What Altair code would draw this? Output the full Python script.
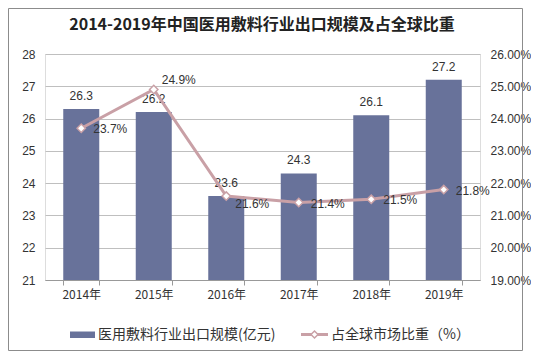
import altair as alt
import pandas as pd

years = ["2014年", "2015年", "2016年", "2017年", "2018年", "2019年"]
export_scale = [26.3, 26.2, 23.6, 24.3, 26.1, 27.2]
global_share = [23.7, 24.9, 21.6, 21.4, 21.5, 21.8]
title_text = "2014-2019年中国医用敷料行业出口规模及占全球比重"
legend_bar = "医用敷料行业出口规模(亿元)"
legend_line = "占全球市场比重（%）"

df = pd.DataFrame({"year": years, "scale": export_scale, "share": global_share})

BAR = "#68729a"
LINE = "#c9a0a6"
TXT = "#333333"
FONT = "Liberation Sans"
CJK = "Noto Sans CJK SC"

W, H = 435, 226

x = alt.X("year:N", sort=years, title=None,
          scale=alt.Scale(paddingInner=0.5, paddingOuter=0.25),
          axis=alt.Axis(labelAngle=0, labelFont=CJK, labelFontSize=12, labelColor=TXT,
                        domainColor="#999999", tickColor="#999999", tickBand="extent",
                        tickSize=5, labelPadding=4, grid=False, labelOverlap=False))

yl = alt.Y("scale:Q", title=None,
           scale=alt.Scale(domain=[21, 28], nice=False, zero=False),
           axis=alt.Axis(values=list(range(21, 29)), labelFont=FONT, labelFontSize=12,
                         labelColor=TXT, domain=False, ticks=False, labelPadding=10,
                         grid=True, gridColor="#bfbfbf", gridWidth=1, labelOverlap=False))

yr = alt.Y("share:Q", title=None,
           scale=alt.Scale(domain=[19, 26], nice=False, zero=False),
           axis=alt.Axis(orient="right", values=list(range(19, 27)), labelFont=FONT,
                         labelFontSize=12, labelColor=TXT, domain=False, ticks=False,
                         labelPadding=10, grid=False, labelOverlap=False,
                         labelExpr="format(datum.value, '.2f') + '%'"))

base = alt.Chart(df)

bars = base.mark_bar(color=BAR, size=36, clip=True).encode(x=x, y=yl, y2=alt.datum(21))
bar_labels = base.mark_text(font=FONT, fontSize=12, color=TXT, baseline="bottom", dy=-6).encode(
    x=x, y=yl, text=alt.Text("scale:Q", format=".1f"))
left = alt.layer(bars, bar_labels)

line = base.mark_line(color=LINE, strokeWidth=3).encode(x=x, y=yr)
pts = base.mark_point(shape="diamond", filled=True, fill="white", stroke=LINE,
                      strokeWidth=1.5, size=70, opacity=1).encode(x=x, y=yr)


def lab(sel, dx, dy):
    return base.transform_filter(sel).transform_calculate(
        lbl="format(datum.share, '.1f') + '%'"
    ).mark_text(font=FONT, fontSize=12, color=TXT, align="left", baseline="middle",
                dx=dx, dy=dy).encode(x=x, y=yr, text=alt.Text("lbl:N"))


right = alt.layer(
    line, pts,
    lab("datum.year == '2015年'", 8, -10),
    lab("datum.year == '2016年'", 9, 8),
    lab("datum.year != '2015年' && datum.year != '2016年'", 12, 1),
)

one = pd.DataFrame({"t": [title_text]})
title = alt.Chart(one).mark_text(font=CJK, fontSize=16, fontWeight="bold", color="#222222",
                                 align="center", baseline="middle").encode(
    text="t:N", x=alt.value(217), y=alt.value(-29))

border = alt.Chart(one).mark_rect(fill=None, stroke="#8c8c8c", strokeWidth=1).encode(
    x=alt.value(-36.5), x2=alt.value(477.5), y=alt.value(-45.5), y2=alt.value(296.5))

lg1 = pd.DataFrame({"t": [legend_bar]})
lg2 = pd.DataFrame({"t": [legend_line]})
leg_bar_sw = alt.Chart(lg1).mark_rect(color=BAR).encode(
    x=alt.value(25), x2=alt.value(50), y=alt.value(277.5), y2=alt.value(284))
leg_bar_tx = alt.Chart(lg1).mark_text(font=CJK, fontSize=14, color=TXT, align="left",
                                      baseline="middle").encode(
    text="t:N", x=alt.value(53), y=alt.value(281))
leg_line_sw = alt.Chart(lg2).mark_rule(color=LINE, strokeWidth=3).encode(
    x=alt.value(256), x2=alt.value(283), y=alt.value(280.5))
leg_line_pt = alt.Chart(lg2).mark_point(shape="diamond", filled=True, fill="white", stroke=LINE,
                                        strokeWidth=1.5, size=50, opacity=1).encode(
    x=alt.value(269.5), y=alt.value(280.5))
leg_line_tx = alt.Chart(lg2).mark_text(font=CJK, fontSize=14, color=TXT, align="left",
                                       baseline="middle").encode(
    text="t:N", x=alt.value(286), y=alt.value(281))

chart = alt.layer(
    left, right, title, border, leg_bar_sw, leg_bar_tx, leg_line_sw, leg_line_pt, leg_line_tx
).resolve_scale(y="independent").properties(
    width=W, height=H,
    autosize=alt.AutoSizeParams(type="none"),
    padding={"left": 37, "top": 46, "right": 51, "bottom": 71},
).configure_view(stroke=None).configure(background="white")

chart.save("out.html", embed_options={"renderer": "svg", "actions": False})
